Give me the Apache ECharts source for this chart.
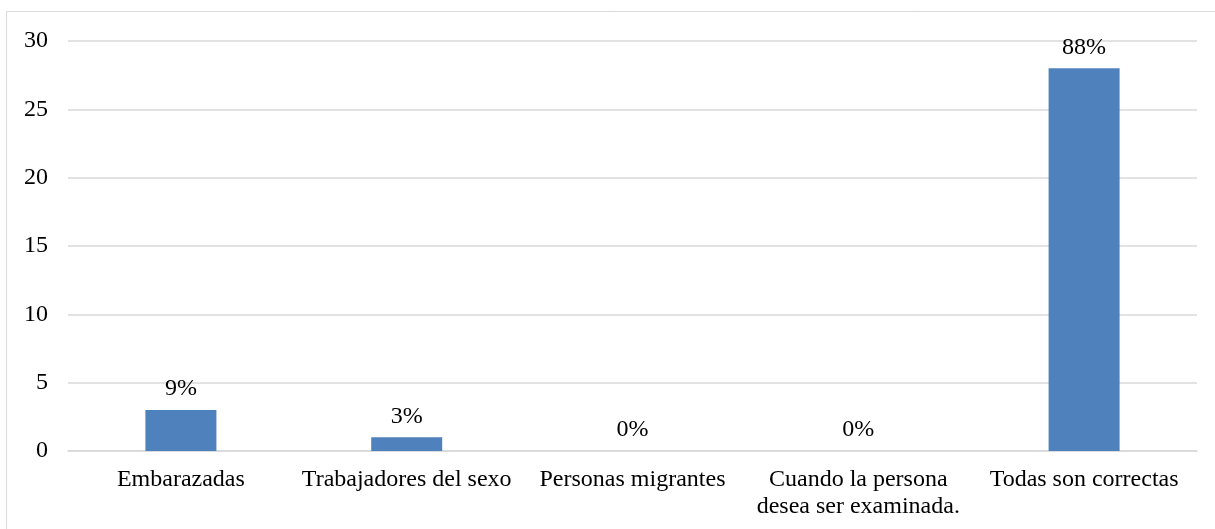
<!DOCTYPE html>
<html>
<head>
<meta charset="utf-8">
<style>
  html, body { margin: 0; padding: 0; background: #ffffff; }
  #chart { width: 1215px; height: 529px; }
</style>
<script src="https://cdn.jsdelivr.net/npm/echarts@6/dist/echarts.min.js"></script>
</head>
<body>
<div id="chart"></div>
<script>
// Respuestas: en qué casos se ofrece la prueba
const categories = [
  'Embarazadas',
  'Trabajadores del sexo',
  'Personas migrantes',
  'Cuando la persona\ndesea ser examinada.',
  'Todas son correctas'
];
const counts = [3, 1, 0, 0, 28];
const percentLabels = ['9%', '3%', '0%', '0%', '88%'];
const yTicks = { min: 0, max: 30, interval: 5 };

const FONT = '"Liberation Serif", "Times New Roman", serif';
const chart = echarts.init(document.getElementById('chart'), null, { renderer: 'canvas' });

chart.setOption({
  backgroundColor: '#ffffff',
  animation: false,
  textStyle: { fontFamily: FONT, color: '#000000' },
  graphic: [{
    type: 'rect',
    shape: { x: 6.5, y: 11.5, width: 1230, height: 560 },
    style: { fill: null, stroke: '#d9d9d9', lineWidth: 1 },
    silent: true
  }],
  grid: { left: 68, right: 18, top: 41, bottom: 78, containLabel: false },
  xAxis: {
    type: 'category',
    data: categories,
    axisLine: { show: true, lineStyle: { color: '#d9d9d9', width: 1.5 } },
    axisTick: { show: false },
    axisLabel: {
      interval: 0,
      margin: 15,
      fontFamily: FONT,
      fontSize: 24,
      lineHeight: 27,
      color: '#000000',
      align: 'center'
    }
  },
  yAxis: {
    type: 'value',
    min: yTicks.min,
    max: yTicks.max,
    interval: yTicks.interval,
    axisLine: { show: false },
    axisTick: { show: false },
    splitLine: { lineStyle: { color: '#d9d9d9', width: 1.5 } },
    axisLabel: {
      margin: 20,
      fontFamily: FONT,
      fontSize: 24,
      color: '#000000'
    }
  },
  series: [{
    type: 'bar',
    data: counts,
    barWidth: 71,
    itemStyle: { color: '#4f81bd' },
    label: {
      show: true,
      position: 'top',
      distance: 9,
      fontFamily: FONT,
      fontSize: 24,
      color: '#000000',
      formatter: (p) => percentLabels[p.dataIndex]
    }
  }]
});
</script>
</body>
</html>
